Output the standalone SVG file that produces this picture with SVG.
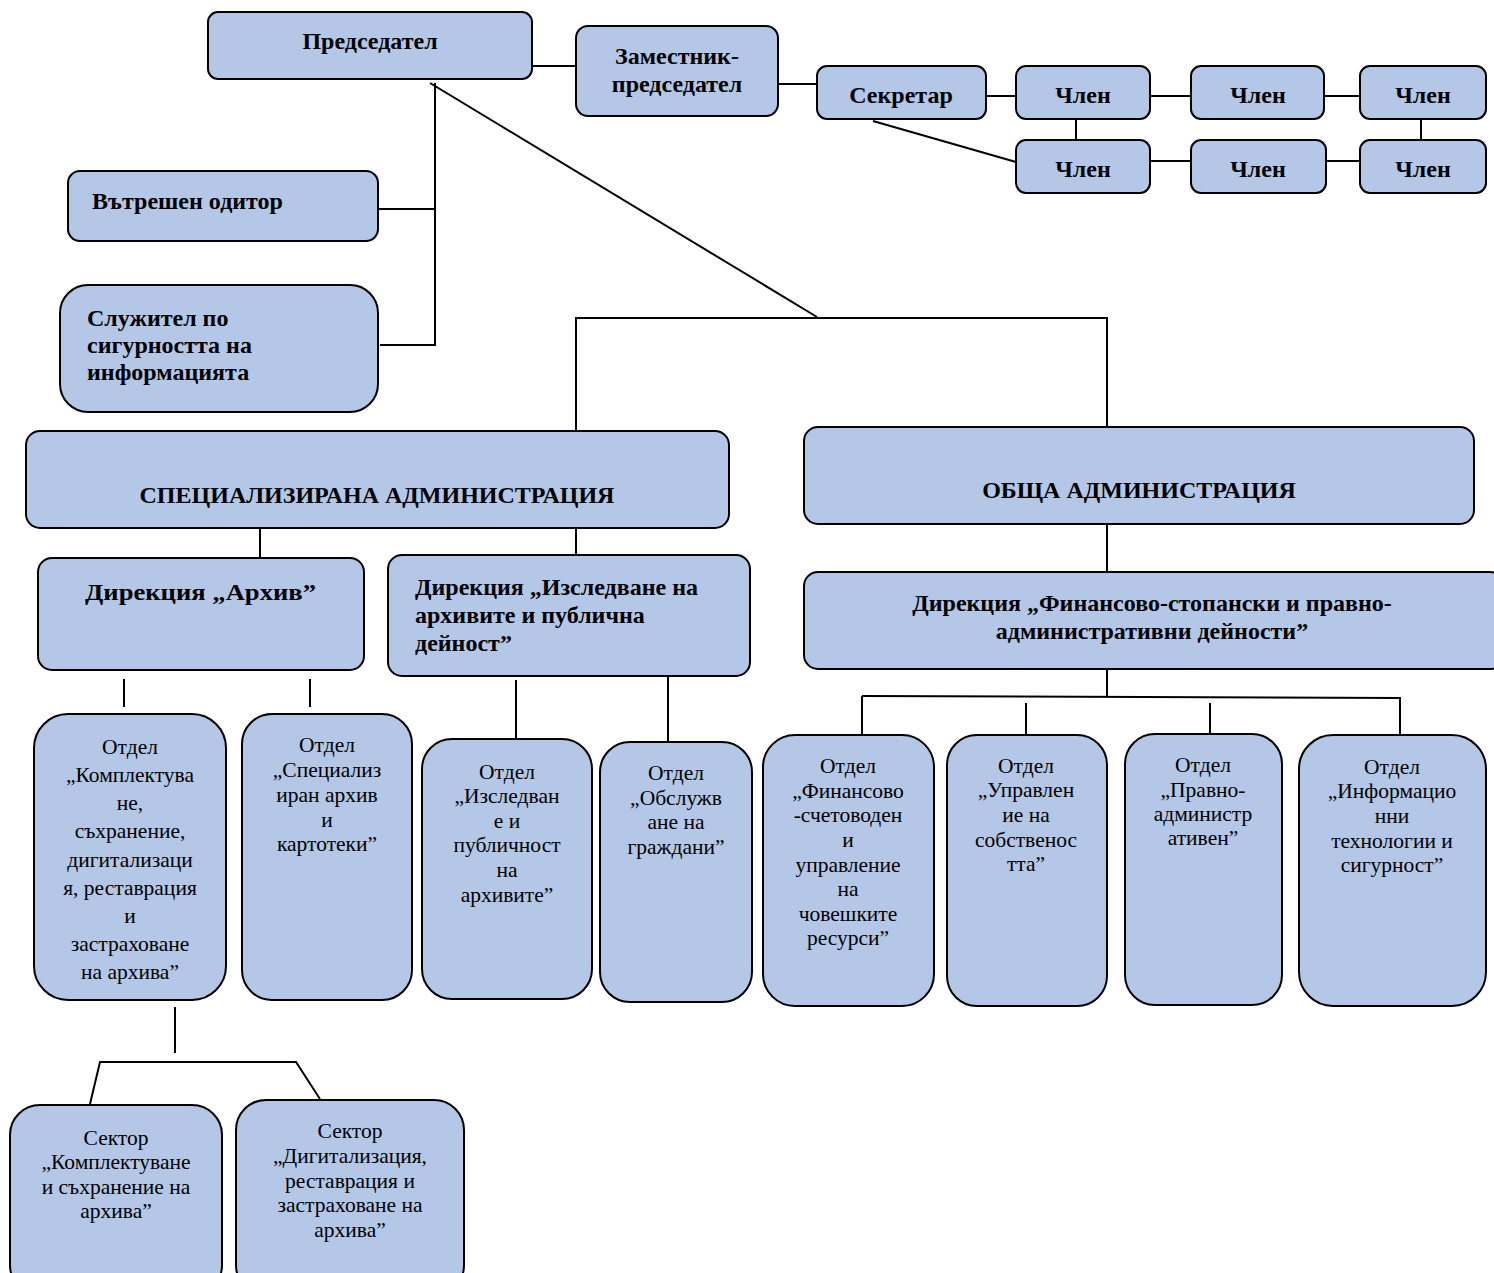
<svg xmlns="http://www.w3.org/2000/svg" width="1494" height="1273" viewBox="0 0 1494 1273">
<style>
.b{fill:#b4c7e7;stroke:#000;stroke-width:2}
.t{font-family:"Liberation Serif","Times New Roman",serif;fill:#000}
.h{font-weight:bold;font-size:24px}
.r{font-size:21.5px;text-anchor:middle}
.c{text-anchor:middle}
#conn line,#conn polyline{stroke:#000;stroke-width:2;fill:none}
</style>
<rect width="1494" height="1273" fill="#fff"/>
<g id="conn">
<line x1="528" y1="66" x2="578" y2="66"/>
<line x1="778" y1="84" x2="818" y2="84"/>
<line x1="986" y1="96" x2="1017" y2="96"/>
<line x1="1150" y1="96" x2="1192" y2="96"/>
<line x1="1324" y1="96" x2="1361" y2="96"/>
<line x1="1076" y1="119" x2="1076" y2="140"/>
<line x1="1421" y1="119" x2="1421" y2="140"/>
<line x1="873" y1="121" x2="1016" y2="162"/>
<line x1="1150" y1="161" x2="1192" y2="161"/>
<line x1="1326" y1="161" x2="1361" y2="161"/>
<polyline points="378,209 435,209"/>
<polyline points="435,83 435,345 380,345"/>
<line x1="430" y1="83" x2="817" y2="317"/>
<polyline points="576,432 576,318 1107,318 1107,427"/>
<line x1="260" y1="525" x2="260" y2="558"/>
<line x1="576" y1="525" x2="576" y2="555"/>
<line x1="1107" y1="524" x2="1107" y2="572"/>
<line x1="124" y1="679" x2="124" y2="707"/>
<line x1="310" y1="679" x2="310" y2="707"/>
<line x1="516" y1="680" x2="516" y2="741"/>
<line x1="668" y1="677" x2="668" y2="742"/>
<line x1="1107" y1="669" x2="1107" y2="697"/>
<line x1="862" y1="696" x2="1401" y2="698"/>
<line x1="862" y1="696" x2="862" y2="734"/>
<line x1="1026" y1="703" x2="1026" y2="734"/>
<line x1="1210" y1="703" x2="1210" y2="734"/>
<line x1="1400" y1="698" x2="1400" y2="734"/>
<line x1="175" y1="1007" x2="175" y2="1053"/>
<polyline points="90,1104 100,1062 296,1062 320,1099"/>
</g>
<g id="n-predsedatel"><rect class="b" x="208" y="12" width="324" height="67" rx="10"/><text class="t h c" x="370" y="49">Председател</text></g>
<g id="n-zamestnik"><rect class="b" x="576" y="26" width="202" height="90" rx="12"/><text class="t h c" x="677" y="64">Заместник-</text><text class="t h c" x="677" y="92">председател</text></g>
<g id="n-sekretar"><rect class="b" x="817" y="66" width="169" height="53" rx="10"/><text class="t h c" x="901" y="103">Секретар</text></g>
<g id="n-chlen1"><rect class="b" x="1016" y="66" width="134" height="53" rx="10"/><text class="t h c" x="1083" y="103">Член</text></g>
<g id="n-chlen2"><rect class="b" x="1191" y="66" width="133" height="53" rx="10"/><text class="t h c" x="1258" y="103">Член</text></g>
<g id="n-chlen3"><rect class="b" x="1360" y="66" width="126" height="53" rx="10"/><text class="t h c" x="1423" y="103">Член</text></g>
<g id="n-chlen4"><rect class="b" x="1016" y="140" width="134" height="53" rx="10"/><text class="t h c" x="1083" y="177">Член</text></g>
<g id="n-chlen5"><rect class="b" x="1191" y="140" width="135" height="53" rx="10"/><text class="t h c" x="1258" y="177">Член</text></g>
<g id="n-chlen6"><rect class="b" x="1360" y="140" width="126" height="53" rx="10"/><text class="t h c" x="1423" y="177">Член</text></g>
<g id="n-oditor"><rect class="b" x="68" y="171" width="310" height="70" rx="12"/><text class="t h" x="92" y="209">Вътрешен одитор</text></g>
<g id="n-sluzhitel"><rect class="b" x="60" y="285" width="318" height="127" rx="28"/><text class="t h" x="87" y="326">Служител по</text><text class="t h" x="87" y="353">сигурността на</text><text class="t h" x="87" y="380">информацията</text></g>
<g id="n-spec"><rect class="b" x="26" y="431" width="703" height="97" rx="14"/><text class="t h c" x="377" y="503">СПЕЦИАЛИЗИРАНА АДМИНИСТРАЦИЯ</text></g>
<g id="n-obshta"><rect class="b" x="804" y="427" width="670" height="97" rx="14"/><text class="t h c" x="1139" y="498">ОБЩА АДМИНИСТРАЦИЯ</text></g>
<g id="n-arhiv"><rect class="b" x="38" y="558" width="326" height="112" rx="14"/><text class="t h" x="85" y="600" font-size="28" textLength="231" lengthAdjust="spacingAndGlyphs">Дирекция „Архив”</text></g>
<g id="n-izsledvane"><rect class="b" x="388" y="555" width="362" height="121" rx="14"/><text class="t h" x="415" y="595">Дирекция „Изследване на</text><text class="t h" x="415" y="623">архивите и публична</text><text class="t h" x="415" y="651">дейност”</text></g>
<g id="n-finansovo-dir"><rect class="b" x="804" y="572" width="700" height="97" rx="14"/><text class="t h c" x="1152" y="611">Дирекция „Финансово-стопански и правно-</text><text class="t h c" x="1152" y="639">административни дейности”</text></g>
<g id="n-komplektuvane"><rect class="b" x="34" y="714" width="192" height="286" rx="34"/><text class="t r" x="130" y="754">Отдел</text><text class="t r" x="130" y="782">„Комплектува</text><text class="t r" x="130" y="810">не,</text><text class="t r" x="130" y="838">съхранение,</text><text class="t r" x="130" y="867">дигитализаци</text><text class="t r" x="130" y="895">я, реставрация</text><text class="t r" x="130" y="923">и</text><text class="t r" x="130" y="951">застраховане</text><text class="t r" x="130" y="979">на архива”</text></g>
<g id="n-specializiran"><rect class="b" x="242" y="714" width="170" height="286" rx="30"/><text class="t r" x="327" y="752">Отдел</text><text class="t r" x="327" y="777">„Специализ</text><text class="t r" x="327" y="802">иран архив</text><text class="t r" x="327" y="827">и</text><text class="t r" x="327" y="851">картотеки”</text></g>
<g id="n-izsl-otdel"><rect class="b" x="422" y="739" width="170" height="260" rx="30"/><text class="t r" x="507" y="779">Отдел</text><text class="t r" x="507" y="803">„Изследван</text><text class="t r" x="507" y="828">е и</text><text class="t r" x="507" y="852">публичност</text><text class="t r" x="507" y="877">на</text><text class="t r" x="507" y="902">архивите”</text></g>
<g id="n-obsluzhvane"><rect class="b" x="600" y="742" width="152" height="260" rx="30"/><text class="t r" x="676" y="780">Отдел</text><text class="t r" x="676" y="805">„Обслужв</text><text class="t r" x="676" y="829">ане на</text><text class="t r" x="676" y="854">граждани”</text></g>
<g id="n-fin-otdel"><rect class="b" x="763" y="735" width="171" height="271" rx="32"/><text class="t r" x="848" y="773">Отдел</text><text class="t r" x="848" y="798">„Финансово</text><text class="t r" x="848" y="822">-счетоводен</text><text class="t r" x="848" y="847">и</text><text class="t r" x="848" y="872">управление</text><text class="t r" x="848" y="896">на</text><text class="t r" x="848" y="921">човешките</text><text class="t r" x="848" y="945">ресурси”</text></g>
<g id="n-sobstvenost"><rect class="b" x="947" y="735" width="160" height="271" rx="30"/><text class="t r" x="1026" y="773">Отдел</text><text class="t r" x="1026" y="797">„Управлен</text><text class="t r" x="1026" y="822">ие на</text><text class="t r" x="1026" y="847">собственос</text><text class="t r" x="1026" y="871">тта”</text></g>
<g id="n-pravno"><rect class="b" x="1125" y="734" width="157" height="271" rx="30"/><text class="t r" x="1203" y="772">Отдел</text><text class="t r" x="1203" y="797">„Правно-</text><text class="t r" x="1203" y="821">администр</text><text class="t r" x="1203" y="845">ативен”</text></g>
<g id="n-it"><rect class="b" x="1299" y="735" width="187" height="271" rx="34"/><text class="t r" x="1392" y="774">Отдел</text><text class="t r" x="1392" y="798">„Информацио</text><text class="t r" x="1392" y="823">нни</text><text class="t r" x="1392" y="848">технологии и</text><text class="t r" x="1392" y="872">сигурност”</text></g>
<g id="n-sektor1"><rect class="b" x="10" y="1105" width="212" height="190" rx="30"/><text class="t r" x="116" y="1145">Сектор</text><text class="t r" x="116" y="1169">„Комплектуване</text><text class="t r" x="116" y="1194">и съхранение на</text><text class="t r" x="116" y="1218">архива”</text></g>
<g id="n-sektor2"><rect class="b" x="236" y="1100" width="228" height="195" rx="30"/><text class="t r" x="350" y="1138">Сектор</text><text class="t r" x="350" y="1163">„Дигитализация,</text><text class="t r" x="350" y="1188">реставрация и</text><text class="t r" x="350" y="1212">застраховане на</text><text class="t r" x="350" y="1237">архива”</text></g>
</svg>
